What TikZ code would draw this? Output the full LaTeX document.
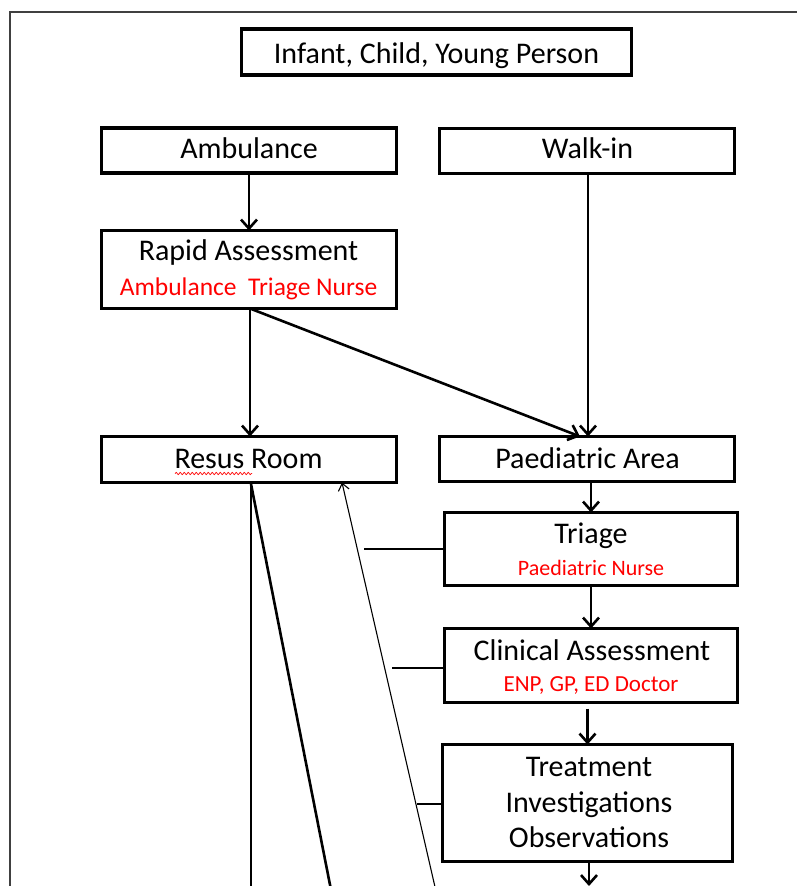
\documentclass[tikz,border=0pt]{standalone}
\usepackage{fontspec}
\setmainfont{Carlito}
\usetikzlibrary{arrows.meta,decorations.pathmorphing}
\begin{document}
\begin{tikzpicture}[x=1pt,y=-1pt,
  box/.style={draw=black, line width=3.2pt, inner sep=0pt, outer sep=0pt, fill=white},
  main/.style={font=\fontsize{30}{36}\selectfont, anchor=base, inner sep=0pt, text=black},
  sub/.style={font=\fontsize{22}{26}\selectfont, anchor=base, inner sep=0pt, text=red},
  arr/.style={line width=2.6pt, -{Straight Barb[length=9pt,width=16pt]}},
  thinarr/.style={line width=1.1pt, -{Straight Barb[length=7pt,width=11pt]}},
  thinline/.style={line width=1.1pt},
  thickline/.style={line width=2.6pt}]
\useasboundingbox (0,0) rectangle (797,886);
\clip (0,0) rectangle (797,886);
\fill[white] (0,0) rectangle (797,886);
% outer frame
\draw[line width=1.2pt, black!75] (10,12) rectangle (830,920);

% boxes
\node[box, minimum width=390pt, minimum height=46pt] (top) at (436.5,52) {};
\node[box, minimum width=295pt, minimum height=45pt] (amb) at (249,150.5) {};
\node[box, minimum width=295pt, minimum height=45pt] (walk) at (587,151) {};
\node[box, minimum width=295pt, minimum height=78pt] (rapid) at (249,269.5) {};
\node[box, minimum width=295pt, minimum height=46pt] (resus) at (249,459.5) {};
\node[box, minimum width=295pt, minimum height=45pt] (paed) at (587,459) {};
\node[box, minimum width=293pt, minimum height=73pt] (triage) at (591,549) {};
\node[box, minimum width=293pt, minimum height=74pt] (clin) at (591,665.5) {};
\node[box, minimum width=290pt, minimum height=117pt] (treat) at (587.5,803) {};

% texts
\node[main] (topT) at (436.5,63) {Infant, Child, Young Person};
\node[main] (ambT) at (249,158) {Ambulance};
\node[main] (walkT) at (587.5,158) {Walk-in};
\node[main] (rapidT) at (248.5,260) {Rapid Assessment};
\node[sub, font=\fontsize{25.5}{30}\selectfont] (rapidS) at (248.5,295.5) {Ambulance\ \ Triage Nurse};
\node[main] (resusT) at (248.5,468) {Resus Room};
\node[main] (paedT) at (587.5,468) {Paediatric Area};
\node[main] (triageT) at (591,543) {Triage};
\node[sub] (triageS) at (591,575) {Paediatric Nurse};
\node[main] (clinT) at (592,660) {Clinical Assessment};
\node[sub, font=\fontsize{23}{27}\selectfont] (clinS) at (591,691) {ENP, GP, ED Doctor};
\node[main] (treat1) at (589,776) {Treatment};
\node[main] (treat2) at (589,812) {Investigations};
\node[main] (treat3) at (589,847) {Observations};

% spell-check underline
\coordinate (wA) at (175,473.5);
\coordinate (wB) at (252,473.5);
\draw[red, line width=0.7pt, decorate, decoration={snake, amplitude=1.1pt, segment length=4pt}] (wA) -- (wB);

% main flow arrows
\draw[arr] (amb) -- (rapid);
\draw[arr] ([xshift=1pt]rapid.south) -- ([xshift=1pt]resus.north);
\draw[arr] ([xshift=1pt]rapid.south) -- ([xshift=-7pt]paed.north);
\draw[arr] ([xshift=1pt]walk.south) -- ([xshift=1pt]paed.north);
\draw[arr] (paed.south -| triage) -- (triage.north);
\draw[arr] (triage) -- (clin);
\draw[arr] ([yshift=-6pt]clin.south -| treat.north) -- (treat.north);
\coordinate (bt) at (589,886);
\draw[arr] ([xshift=1.5pt]treat.south) -- (bt);

% lines leaving resus room
\coordinate (rs) at (251,484);
\coordinate (b1) at (251,900);
\coordinate (b2) at (333,900);
\draw[thickline] (rs) -- (b1);
\draw[thickline] (rs) -- (b2);
\coordinate (b3) at (438,900);
\draw[thinarr] (b3) -- ([xshift=93pt]resus.south);

% side connectors
\coordinate (c1) at (364,549);
\coordinate (c2) at (392,668);
\coordinate (c3) at (417,804);
\draw[thinline] (triage.west) -- (c1);
\draw[thinline] (c2 -| clin.west) -- (c2);
\draw[thinline] (c3 -| treat.west) -- (c3);
\end{tikzpicture}
\end{document}
